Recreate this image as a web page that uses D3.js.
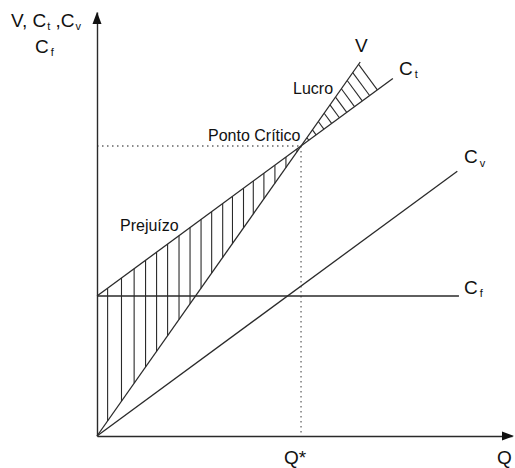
<!DOCTYPE html>
<html>
<head>
<meta charset="utf-8">
<script src="https://cdn.jsdelivr.net/npm/d3@7"></script>
<style>
  html, body { margin: 0; padding: 0; background: #fff; }
  svg { display: block; }
  text { font-family: "Liberation Sans", Arial, Helvetica, sans-serif; fill: #111; }
</style>
</head>
<body>
<svg id="chart" width="515" height="468"></svg>
<script>
// ---- data ----
const seriesNames = ["V", "Ct", "Cv", "Cf"];
const vLine  = [[0, 0], [64.5, 93.5]];     // receita (V)
const ctLine = [[0, 35], [72.5, 89.4]];    // custo total (Ct)
const cvLine = [[0, 0], [88.3, 66.2]];     // custo variável (Cv)
const cfLine = [[0, 35], [88.7, 35]];      // custo fixo (Cf)
const breakEven = [50, 72.5];              // Ponto Crítico (Q*, V)
const prejHatchQ = [2.6, 6.0, 9.1, 11.9, 14.6, 17.3, 20.1, 22.8, 25.5, 28.1,
                    30.8, 33.2, 35.9, 38.3, 40.9, 43.6, 46.3, 49.0];
const lucroHatchQ = [51.9, 53.7, 55.6, 57.5, 59.4, 61.2, 63.1, 65.0, 66.8, 68.7];
const xMax = 101.7, yMax = 106;

// ---- scales ----
const svg = d3.select("#chart");
const x = d3.scaleLinear().domain([0, xMax]).range([97, 512]);
const y = d3.scaleLinear().domain([0, yMax]).range([436, 12]);

const lineVal = (ln, q) => ln[0][1] + (ln[1][1] - ln[0][1]) * (q - ln[0][0]) / (ln[1][0] - ln[0][0]);
const line = d3.line().x(d => x(d[0])).y(d => y(d[1]));
const ink = "#2a2a2a";

// ---- hatching: prejuízo (vertical, between Ct and V) ----
svg.append("g").selectAll("line").data(prejHatchQ).join("line")
  .attr("x1", d => x(d)).attr("x2", d => x(d))
  .attr("y1", d => y(lineVal(ctLine, d)))
  .attr("y2", d => y(lineVal(vLine, d)))
  .attr("stroke", ink).attr("stroke-width", 1.1);

// ---- hatching: lucro (perpendicular to Ct, from Ct to V) ----
(function () {
  const p0 = [x(ctLine[0][0]), y(ctLine[0][1])], p1 = [x(ctLine[1][0]), y(ctLine[1][1])];
  const dx = p1[0] - p0[0], dy = p1[1] - p0[1], L = Math.hypot(dx, dy);
  const n = [dy / L, -dx / L]; // perpendicular
  const v0 = [x(vLine[0][0]), y(vLine[0][1])], v1 = [x(vLine[1][0]), y(vLine[1][1])];
  const segs = lucroHatchQ.map(q => {
    const P = [x(q), y(lineVal(ctLine, q))];
    // intersect P + t*n with V line v0 + s*(v1-v0)
    const ex = v1[0] - v0[0], ey = v1[1] - v0[1];
    const det = n[0] * (-ey) - n[1] * (-ex);
    const rx = v0[0] - P[0], ry = v0[1] - P[1];
    const t = (rx * (-ey) - ry * (-ex)) / det;
    return [P, [P[0] + t * n[0], P[1] + t * n[1]]];
  });
  svg.append("g").selectAll("line").data(segs).join("line")
    .attr("x1", d => d[0][0]).attr("y1", d => d[0][1])
    .attr("x2", d => d[1][0]).attr("y2", d => d[1][1])
    .attr("stroke", ink).attr("stroke-width", 1.1);
})();

// ---- dotted guides ----
svg.append("line")
  .attr("x1", x(0)).attr("x2", x(breakEven[0]))
  .attr("y1", y(breakEven[1])).attr("y2", y(breakEven[1]))
  .attr("stroke", "#666").attr("stroke-width", 1.3).attr("stroke-dasharray", "1.5,3.5");
svg.append("line")
  .attr("x1", x(breakEven[0])).attr("x2", x(breakEven[0]))
  .attr("y1", y(breakEven[1])).attr("y2", y(0))
  .attr("stroke", "#666").attr("stroke-width", 1.3).attr("stroke-dasharray", "1.5,3.5");

// ---- main lines ----
[vLine, ctLine, cvLine, cfLine].forEach(ln => {
  svg.append("path").attr("d", line(ln)).attr("fill", "none")
    .attr("stroke", ink).attr("stroke-width", 1.3);
});

// ---- axes ----
const gx = svg.append("g").attr("transform", `translate(0,${y(0)})`)
  .call(d3.axisBottom(x).tickValues([]).tickSizeOuter(0));
const gy = svg.append("g").attr("transform", `translate(${x(0)},0)`)
  .call(d3.axisLeft(y).tickValues([]).tickSizeOuter(0));
[gx, gy].forEach(g => g.select(".domain").attr("stroke", ink).attr("stroke-width", 1.4));
// arrow heads
svg.append("path")
  .attr("d", `M${x(0)},${y(yMax)} L${x(0) - 4.5},${y(yMax) + 12} L${x(0) + 4.5},${y(yMax) + 12} Z`)
  .attr("fill", "#111");
svg.append("path")
  .attr("d", `M${x(xMax) + 2},${y(0)} L${x(xMax) - 10},${y(0) - 4.5} L${x(xMax) - 10},${y(0) + 4.5} Z`)
  .attr("fill", "#111");

// ---- labels ----
function subLabel(px, py, main, sub, size, subDy) {
  const t = svg.append("text").attr("x", px).attr("y", py).attr("font-size", size);
  t.append("tspan").text(main);
  if (sub) t.append("tspan").attr("dx", 2).attr("dy", subDy || 3).attr("font-size", 11).text(sub);
  return t;
}
// y-axis title
const yt = svg.append("text").attr("x", 11).attr("y", 27).attr("font-size", 19);
yt.append("tspan").text("V, C");
yt.append("tspan").attr("dx", 1).attr("dy", 3).attr("font-size", 11).text("t");
yt.append("tspan").attr("dy", -3).text(" ,C");
yt.append("tspan").attr("dx", 1).attr("dy", 3).attr("font-size", 11).text("v");
subLabel(35, 53, "C", "f", 19, 3);

svg.append("text").attr("x", 355).attr("y", 52).attr("font-size", 19).text(seriesNames[0]);
subLabel(399, 75, "C", "t", 19, 3);
subLabel(464, 163, "C", "v", 19, 4);
subLabel(464, 294, "C", "f", 19, 3);

svg.append("text").attr("x", 293).attr("y", 94).attr("font-size", 16).text("Lucro");
svg.append("text").attr("x", 208).attr("y", 141).attr("font-size", 16).text("Ponto Crítico");
svg.append("text").attr("x", 120).attr("y", 231).attr("font-size", 16).text("Prejuízo");

svg.append("text").attr("x", 284).attr("y", 464).attr("font-size", 19).text("Q*");
svg.append("text").attr("x", 497).attr("y", 464).attr("font-size", 19).text("Q");
</script>
</body>
</html>
